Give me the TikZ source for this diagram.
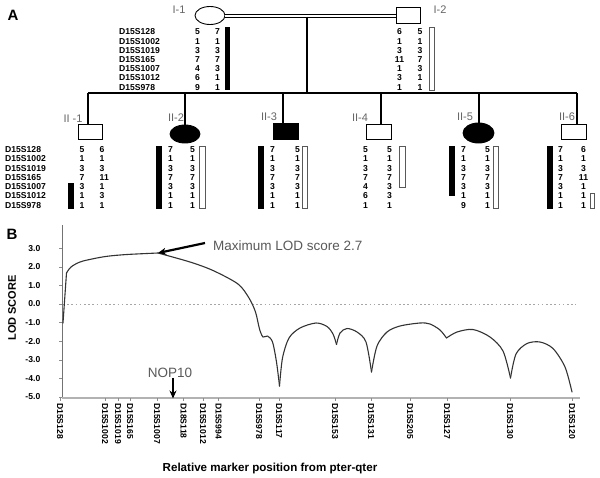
\documentclass[tikz,border=0pt]{standalone}
\usepackage{fontspec}
\setmainfont{Liberation Sans}
\usetikzlibrary{arrows.meta,shapes.geometric}
\begin{document}
\begin{tikzpicture}[x=1pt,y=-1pt,
  mk/.style={font=\fontsize{8.6}{9}\selectfont\bfseries, inner sep=0pt},
  gen/.style={font=\fontsize{11}{12}\selectfont, text=black!60, inner sep=0pt},
  panel/.style={font=\fontsize{15}{16}\selectfont\bfseries, inner sep=0pt},
  ped/.style={line width=1.1pt},
  male/.style={draw, line width=0.9pt, minimum width=24pt, minimum height=15pt, inner sep=0pt},
  female/.style={draw, ellipse, line width=0.9pt, minimum width=30pt, minimum height=18pt, inner sep=0pt},
  blackbar/.style={fill=black},
  openbar/.style={draw=black!65, line width=0.6pt},
  bigarrow/.style={line width=2.2pt, -{Stealth[length=8pt,width=7pt]}},
  note/.style={font=\fontsize{13.5}{14}\selectfont, text=black!65, inner sep=0pt}]
\useasboundingbox (0,0) rectangle (600,477);

% ---------------- Panel A ----------------
\node[panel] (A) at (13,15) {A};

% generation I
\node[female] (I1) at (210,15.5) {};
\node[male, minimum width=24pt, minimum height=16pt] (I2) at (408,15.5) {};
\node[gen] (I1l) at (179,10) {I-1};
\node[gen] (I2l) at (440,10) {I-2};
\draw[line width=1pt, double, double distance=2pt] (I1.east) -- (I2.west);
\coordinate (mid) at (307,16.5);
\coordinate (sibL) at (88,93);

% generation II
\node[male] (II1) at (90,131.5) {};
\node[female, fill=black] (II2) at (185,134) {};
\node[male, fill=black, minimum width=25pt, minimum height=16pt] (II3) at (285.5,131) {};
\node[male, minimum width=25pt] (II4) at (378.5,131.5) {};
\node[female, fill=black, minimum width=31pt, minimum height=20pt] (II5) at (478.5,133) {};
\node[male, minimum width=25pt] (II6) at (573.5,131.5) {};

\draw[ped] (mid) -- (mid |- sibL);
\draw[ped] ([xshift=-2pt]II1.north |- sibL) -- ([xshift=3.5pt]II6.north |- sibL);
\draw[ped] ([xshift=-2pt]II1.north |- sibL) -- ([xshift=-2pt]II1.north);
\draw[ped] (II2.north |- sibL) -- (II2.north);
\draw[ped] ([xshift=-2.5pt]II3.north |- sibL) -- ([xshift=-2.5pt]II3.north);
\draw[ped] ([xshift=2.5pt]II4.north |- sibL) -- ([xshift=2.5pt]II4.north);
\draw[ped] ([xshift=0.5pt]II5.north |- sibL) -- ([xshift=0.5pt]II5.north);
\draw[ped] ([xshift=3.5pt]II6.north |- sibL) -- ([xshift=3.5pt]II6.north);

\node[gen] (II1l) at (73,119) {II -1};
\node[gen] (II2l) at (176,118) {II-2};
\node[gen] (II3l) at (269,117) {II-3};
\node[gen] (II4l) at (360,118) {II-4};
\node[gen] (II5l) at (465,117) {II-5};
\node[gen] (II6l) at (567,117) {II-6};

% haplotypes generation I
\foreach \m [count=\i] in {D15S128,D15S1002,D15S1019,D15S165,D15S1007,D15S1012,D15S978}
  \node[mk, anchor=west] (gIm\i) at (119,{32+9.2*(\i-1)}) {\m};
\foreach \v [count=\i] in {5,1,3,7,4,6,9}
  \node[mk] (I1a\i) at (197.5,{32+9.2*(\i-1)}) {\v};
\foreach \v [count=\i] in {7,1,3,7,3,1,1}
  \node[mk] (I1b\i) at (217.5,{32+9.2*(\i-1)}) {\v};
\fill[blackbar] (225,27) rectangle (229.5,90);
\foreach \v [count=\i] in {6,1,3,11,1,3,1}
  \node[mk] (I2a\i) at (399.5,{32+9.2*(\i-1)}) {\v};
\foreach \v [count=\i] in {5,1,3,7,3,1,1}
  \node[mk] (I2b\i) at (420,{32+9.2*(\i-1)}) {\v};
\draw[openbar] (429.5,27.5) rectangle (434,90);

% haplotypes generation II
\foreach \m [count=\i] in {D15S128,D15S1002,D15S1019,D15S165,D15S1007,D15S1012,D15S978}
  \node[mk, anchor=west] (gIIm\i) at (5,{149.5+9.3*(\i-1)}) {\m};
% II-1
\foreach \v [count=\i] in {5,1,3,7,3,1,1}
  \node[mk] (II1a\i) at (82,{149.5+9.3*(\i-1)}) {\v};
\foreach \v [count=\i] in {6,1,3,11,1,3,1}
  \node[mk, anchor=west] (II1b\i) at (99.5,{149.5+9.3*(\i-1)}) {\v};
\fill[blackbar] (68,183) rectangle (74,208.5);
% II-2
\foreach \v [count=\i] in {7,1,3,7,3,1,1}
  \node[mk] (II2a\i) at (170.5,{149.5+9.3*(\i-1)}) {\v};
\foreach \v [count=\i] in {5,1,3,7,3,1,1}
  \node[mk] (II2b\i) at (192.5,{149.5+9.3*(\i-1)}) {\v};
\fill[blackbar] (156,146) rectangle (162,208.5);
\draw[openbar] (199.5,146.5) rectangle (205,208.5);
% II-3
\foreach \v [count=\i] in {7,1,3,7,3,1,1}
  \node[mk] (II3a\i) at (272.5,{149.5+9.3*(\i-1)}) {\v};
\foreach \v [count=\i] in {5,1,3,7,3,1,1}
  \node[mk] (II3b\i) at (297.5,{149.5+9.3*(\i-1)}) {\v};
\fill[blackbar] (258,146) rectangle (264,208.5);
\draw[openbar] (302.5,146.5) rectangle (307.5,208.5);
% II-4
\foreach \v [count=\i] in {5,1,3,7,4,6,1}
  \node[mk] (II4a\i) at (365.5,{149.5+9.3*(\i-1)}) {\v};
\foreach \v [count=\i] in {5,1,3,7,3,3,1}
  \node[mk] (II4b\i) at (389.5,{149.5+9.3*(\i-1)}) {\v};
\draw[openbar] (399.5,146.5) rectangle (405,187);
% II-5
\foreach \v [count=\i] in {7,1,3,7,3,1,9}
  \node[mk] (II5a\i) at (463.5,{149.5+9.3*(\i-1)}) {\v};
\foreach \v [count=\i] in {5,1,3,7,3,1,1}
  \node[mk] (II5b\i) at (487.5,{149.5+9.3*(\i-1)}) {\v};
\fill[blackbar] (449,146) rectangle (454.5,195.5);
\draw[openbar] (493.5,146.5) rectangle (498.5,208.5);
% II-6
\foreach \v [count=\i] in {7,1,3,7,3,1,1}
  \node[mk] (II6a\i) at (560.5,{149.5+9.3*(\i-1)}) {\v};
\foreach \v [count=\i] in {6,1,3,11,1,1,1}
  \node[mk] (II6b\i) at (583.5,{149.5+9.3*(\i-1)}) {\v};
\fill[blackbar] (547,146) rectangle (552.5,208.5);
\draw[openbar] (590,193) rectangle (594.5,208.5);

% ---------------- Panel B ----------------
\node[panel] (B) at (12,234) {B};

% axes
\draw[black!55, line width=0.8pt] (62,225) -- (62,398);
\draw[black!30, line width=1.2pt] (62,398) -- (580,398);
\draw[black!35, line width=0.8pt, dash pattern=on 1.6pt off 2.6pt] (63,304) -- (576,304);
\foreach \v/\t [count=\i] in {3/3.0,2/2.0,1/1.0,0/0.0,-1/-1.0,-2/-2.0,-3/-3.0,-4/-4.0,-5/-5.0} {
  \node[mk, anchor=east] (yt\i) at (40.5,{304-18.6*\v}) {\t};
  \draw[black!45, line width=0.6pt] (59,{304-18.6*\v}) -- (62,{304-18.6*\v});
}
\node[font=\fontsize{11}{12}\selectfont\bfseries, rotate=90, inner sep=0pt] (ylab) at (12,308) {LOD SCORE};

% marker labels on x axis
\foreach \x/\m [count=\i] in {60/D15S128,105/D15S1002,118/D15S1019,130/D15S165,157/D15S1007,183.5/D18S118,203/D15S1012,218.5/D15S994,259/D15S978,279/D15S117,335/D15S153,371/D15S131,410/D15S205,447/D15S127,510/D15S130,572/D15S120} {
  \node[mk, rotate=-90, anchor=west] (xm\i) at (\x,403) {\m};
  \draw[black!45, line width=0.6pt] (\x,398) -- (\x,400.5);
}
\node[font=\fontsize{11.6}{12}\selectfont\bfseries, inner sep=0pt] (xlab) at (270,468) {Relative marker position from pter-qter};

% LOD curve
\begin{scope}[draw=black!80, line width=1.1pt, line join=round, line cap=round]
\draw (63,323) -- (66.5,273);
\draw plot[smooth, tension=0.55] coordinates {(66.5,273) (71,267) (80,262) (92,259) (107,256.3) (127,254.5) (158,253)};
\draw plot[smooth, tension=0.5] coordinates {(158,253) (190,262) (213,270.5) (238,284) (249,298) (255.5,312) (259.5,329) (263,337) (267.5,336) (272.5,342) (276.5,362) (279.5,386)};
\draw plot[smooth, tension=0.5] coordinates {(279.5,386) (282.5,358) (289,338) (300,328) (316,323) (327,326.5) (333,334) (336.5,344.5)};
\draw plot[smooth, tension=0.5] coordinates {(336.5,344.5) (340,333) (347,328.5) (357,332) (366,342) (371.5,372)};
\draw plot[smooth, tension=0.5] coordinates {(371.5,372) (377,346) (387,332) (400,326) (420,323) (430,324) (440,330) (446.5,338)};
\draw plot[smooth, tension=0.5] coordinates {(446.5,338) (457,332) (473,329.5) (490,337) (503,351) (510.5,378)};
\draw plot[smooth, tension=0.5] coordinates {(510.5,378) (516,354) (527,343.5) (540,342) (553,348.5) (565,367) (572,392)};
\end{scope}

% annotations
\node[note, anchor=west] (maxl) at (213,246) {Maximum LOD score 2.7};
\coordinate (maxstart) at (205,243);
\coordinate (maxpt) at (158,253);
\draw[bigarrow] (maxstart) -- (maxpt);
\node[note] (nop) at (170,373) {NOP10};
\coordinate (noptip) at (173,398.5);
\draw[bigarrow] (noptip |- nop.south) -- (noptip);
\end{tikzpicture}
\end{document}
